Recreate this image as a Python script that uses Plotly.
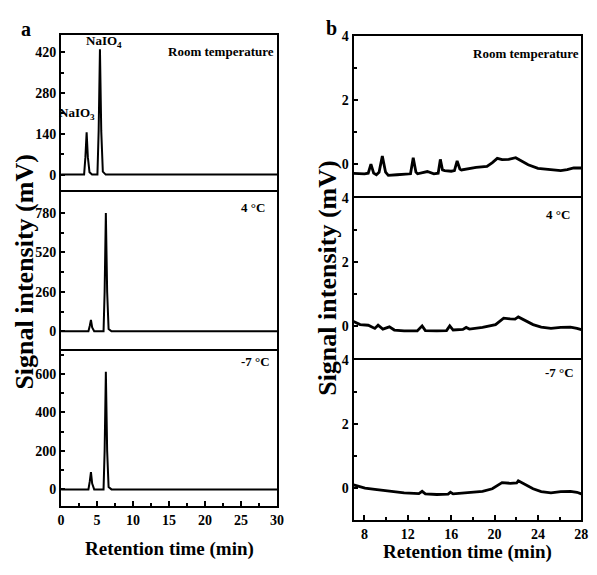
import plotly.graph_objects as go

# ---------------- data: panel a (full chromatograms) ----------------
a_rt_x = [0, 3.2, 3.38, 3.55, 3.72, 3.95, 4.3, 5.05, 5.22, 5.4, 5.58, 5.8, 6.2, 30]
a_rt_y = [0, 0, 60, 145, 60, 8, 0, 0, 150, 430, 150, 10, 0, 0]
a_4c_x = [0, 3.8, 3.98, 4.15, 4.32, 4.6, 5.9, 6.05, 6.22, 6.4, 6.6, 7.0, 30]
a_4c_y = [0, 0, 35, 75, 25, 0, 0, 260, 780, 260, 15, 0, 0]
a_m7c_x = [0, 3.8, 3.98, 4.15, 4.32, 4.6, 5.9, 6.05, 6.22, 6.4, 6.6, 7.0, 30]
a_m7c_y = [0, 0, 40, 90, 30, 0, 0, 200, 610, 200, 12, 0, 0]

# ---------------- data: panel b (baseline zoom) ----------------
b_rt_x = [7.0, 8.0, 8.35, 8.6, 8.85, 9.1, 9.35, 9.65, 9.95, 10.2, 11.0, 12.0, 12.25, 12.5,
          12.75, 12.9, 13.8, 14.4, 14.8, 15.0, 15.2, 15.4, 16.0, 16.3, 16.55, 16.8, 16.95,
          18.3, 19.3, 19.8, 20.25, 20.7, 21.3, 21.95, 22.5, 23.1, 24.0, 25.2, 26.1, 26.7,
          27.3, 28.0]
b_rt_y = [-0.29, -0.3, -0.28, 0.0, -0.28, -0.33, -0.25, 0.25, -0.25, -0.35, -0.33, -0.32,
          -0.3, 0.2, -0.25, -0.3, -0.23, -0.3, -0.28, 0.15, -0.18, -0.2, -0.22, -0.2, 0.1,
          -0.15, -0.18, -0.1, -0.07, 0.05, 0.18, 0.14, 0.15, 0.2, 0.1, -0.02, -0.13, -0.18,
          -0.2, -0.17, -0.12, -0.12]
b_4c_x = [7.0, 7.6, 8.35, 8.96, 9.26, 9.7, 10.3, 10.76, 11.66, 12.87, 13.32, 13.62, 14.67,
          15.57, 15.87, 16.18, 17.08, 17.38, 17.68, 18.89, 20.09, 20.45, 20.84, 21.44, 21.89,
          22.19, 22.79, 23.55, 24.3, 25.2, 26.1, 27.0, 27.6, 28.0]
b_4c_y = [0.14, 0.04, 0.02, -0.08, 0.02, -0.1, -0.03, -0.13, -0.16, -0.16, 0.0, -0.15,
          -0.16, -0.15, 0.0, -0.13, -0.11, -0.05, -0.1, -0.05, 0.04, 0.14, 0.24, 0.22, 0.21,
          0.28, 0.17, 0.04, -0.04, -0.08, -0.05, -0.04, -0.08, -0.12]
b_m7c_x = [7.0, 8.05, 8.96, 9.86, 10.46, 11.66, 13.02, 13.32, 13.62, 14.67, 15.72, 15.93,
           16.18, 17.68, 18.89, 19.79, 20.24, 20.69, 21.44, 22.04, 22.19, 22.79, 23.55, 24.3,
           25.2, 26.1, 27.0, 27.6, 28.0]
b_m7c_y = [0.09, -0.01, -0.05, -0.08, -0.12, -0.16, -0.18, -0.11, -0.19, -0.21, -0.2, -0.14,
           -0.19, -0.14, -0.11, -0.03, 0.07, 0.16, 0.14, 0.15, 0.22, 0.11, -0.03, -0.12,
           -0.16, -0.12, -0.11, -0.14, -0.19]

panel_labels = ["Room temperature", "4 °C", "-7 °C"]
peak_labels = ["NaIO<sub>3</sub>", "NaIO<sub>4</sub>"]
x_title = "Retention time (min)"
y_title = "Signal intensity (mV)"

W, H = 597, 575
OX, OY = 8, 8  # default page body margin offsets the figure
FONT = "Liberation Serif"
LW = 2


def px(x):
    return (x - OX) / W


def py(y):
    return 1 - (y - OY) / H


fig = go.Figure()
traces = [
    (a_rt_x, a_rt_y, "x", "y", 2),
    (a_4c_x, a_4c_y, "x2", "y2", 2),
    (a_m7c_x, a_m7c_y, "x3", "y3", 2),
    (b_rt_x, b_rt_y, "x4", "y4", 2.8),
    (b_4c_x, b_4c_y, "x5", "y5", 2.8),
    (b_m7c_x, b_m7c_y, "x6", "y6", 2.8),
]
for xs, ys, xa, ya, lw in traces:
    fig.add_trace(go.Scatter(x=xs, y=ys, xaxis=xa, yaxis=ya, mode="lines",
                             line=dict(color="black", width=lw), showlegend=False,
                             hoverinfo="skip"))

tickfont = dict(family=FONT, size=14, color="black", weight="bold")

h = LW / 2
a_xdom = [px(57 + h), px(279 - h)]
b_xdom = [px(355 + h), px(589 - h)]
a_ydoms = [[py(186.5 - h), py(27 + h)], [py(347 - h), py(186.5 + h)], [py(506 - h), py(347 + h)]]
b_ydoms = [[py(192.5 - h), py(28 + h)], [py(356 - h), py(192.5 + h)], [py(520 - h), py(356 + h)]]
a_yranges = [[-54, 480], [-116, 916], [-86, 719]]
a_ydt = [140, 260, 200]

layout = dict(width=W, height=H, margin=dict(l=0, r=0, t=0, b=0),
              paper_bgcolor="white", plot_bgcolor="white", showlegend=False)


def xax(dom, rng, anchor, bottom, dtick, mdtick):
    d = dict(domain=dom, range=rng, anchor=anchor, showline=True, linecolor="black",
             linewidth=LW, mirror=True, showgrid=False, zeroline=False)
    if bottom:
        d.update(ticks="inside", ticklen=5, tickwidth=1.5, tickcolor="black",
                 tickmode="linear", tick0=0, dtick=dtick, tickfont=tickfont,
                 minor=dict(ticks="inside", ticklen=3, tickwidth=1.5, tickcolor="black",
                            dtick=mdtick, tick0=0))
    else:
        d.update(ticks="", showticklabels=False)
    return d


def yax(dom, rng, anchor, dtick):
    return dict(domain=dom, range=rng, anchor=anchor, showline=True, linecolor="black",
                linewidth=LW, mirror=True, showgrid=False, zeroline=False,
                ticks="inside", ticklen=4, tickwidth=1.5, tickcolor="black",
                tickmode="linear", tick0=0, dtick=dtick, tickfont=tickfont,
                minor=dict(ticks="inside", ticklen=3, tickwidth=1.5, tickcolor="black",
                           dtick=dtick / 2, tick0=0))


for i in range(3):
    n = "" if i == 0 else str(i + 1)
    layout["xaxis" + n] = xax(a_xdom, [0, 30], "y" + n, i == 2, 5, 2.5)
    layout["yaxis" + n] = yax(a_ydoms[i], a_yranges[i], "x" + n, a_ydt[i])
for i in range(3):
    n = str(i + 4)
    layout["xaxis" + n] = xax(b_xdom, [7, 28], "y" + n, i == 2, 4, 2)
    layout["yaxis" + n] = yax(b_ydoms[i], [-1, 4.0001], "x" + n, 2)

fig.update_layout(**layout)


def ann(text, x, y, size, xanchor="center", angle=0):
    fig.add_annotation(text=text, x=px(x), y=py(y), xref="paper", yref="paper",
                       xanchor=xanchor, yanchor="middle", showarrow=False, textangle=angle,
                       font=dict(family=FONT, size=size, color="black", weight="bold"))


ann("a", 22, 22, 20)
ann("b", 333, 21, 20)
ann(panel_labels[0], 277, 45, 13, "right")
ann(panel_labels[0], 588, 47, 13, "right")
ann(panel_labels[1], 268, 203, 13, "right")
ann(panel_labels[2], 273, 359, 13, "right")
ann(panel_labels[1], 579, 210, 13, "right")
ann(panel_labels[2], 583, 370, 13, "right")
ann(peak_labels[1], 102, 35, 13)
ann(peak_labels[0], 95, 108, 13, "right")
ann(x_title, 168, 549, 19)
ann(x_title, 472, 552, 19)
ann(y_title, 21, 268, 26, angle=-90)
ann(y_title, 330, 275, 26, angle=-90)

fig.write_html("out.html")
